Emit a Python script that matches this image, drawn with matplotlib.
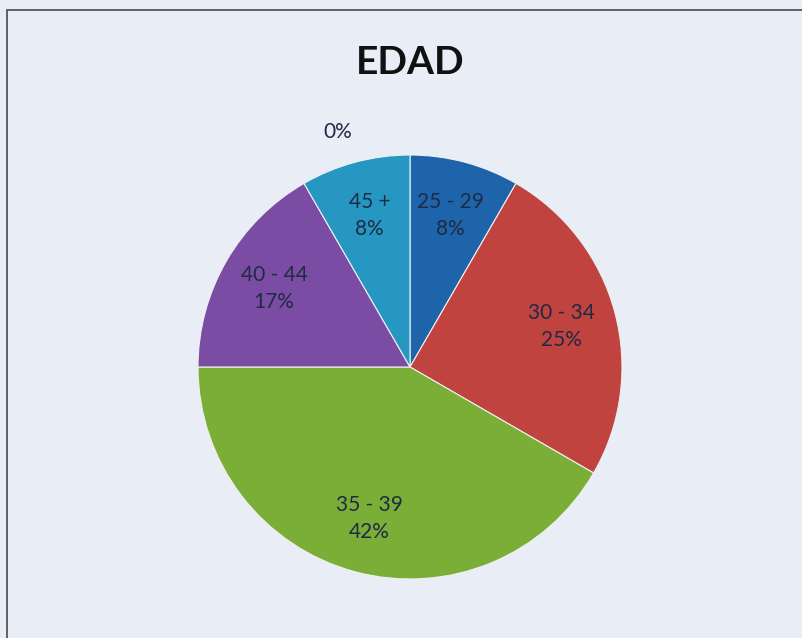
import numpy as np
import matplotlib
matplotlib.use("Agg")
import matplotlib.pyplot as plt
from matplotlib.patches import Rectangle

categories = ["", "25 - 29", "30 - 34", "35 - 39", "40 - 44", "45 +"]
values = [0, 1, 3, 5, 2, 1]
colors = ["#2a8fc0", "#1e64ab", "#c1433f", "#7bae36", "#7b4ca3", "#2597c2"]
title = "EDAD"

W, H = 803, 638
fig = plt.figure(figsize=(W / 100, H / 100), dpi=100)
fig.patch.set_facecolor("#e9edf6")

# frame border
fig.patches.append(Rectangle((7 / W, -0.01), 1.02, 1 - 10 / H + 0.01,
                             transform=fig.transFigure, fill=False,
                             edgecolor="#555555", linewidth=1.3, clip_on=False))

cx, cy, r = 410, 367, 212
ax = fig.add_axes([(cx - r) / W, 1 - (cy + r) / H, 2 * r / W, 2 * r / H])
ax.set_facecolor("none")

wedges, _ = ax.pie(values, colors=colors, startangle=90, counterclock=False,
                   wedgeprops=dict(edgecolor="#f0f0f0", linewidth=0.8))
ax.set_xlim(-1, 1)
ax.set_ylim(-1, 1)
ax.set_aspect("equal")
ax.axis("off")

total = sum(values)
font = "Lato"
for w, cat, v in zip(wedges, categories, values):
    pct = f"{round(100 * v / total):d}%"
    ang = np.deg2rad((w.theta1 + w.theta2) / 2)
    if v == 0:
        ang = ang + np.deg2rad(17)
        d = 1.16
        txt = pct
    else:
        d = 0.74
        txt = f"{cat}\n{pct}"
    ax.text(d * np.cos(ang), d * np.sin(ang), txt, ha="center", va="center",
            fontsize=15, family=font, color="#1f2a44", linespacing=1.45,
            clip_on=False)

fig.text(410 / W, 1 - 62 / H, title, ha="center", va="center",
         fontsize=28, fontweight="bold", family=font, color="#111111")

fig.savefig("out.png", dpi=100, facecolor=fig.get_facecolor())
